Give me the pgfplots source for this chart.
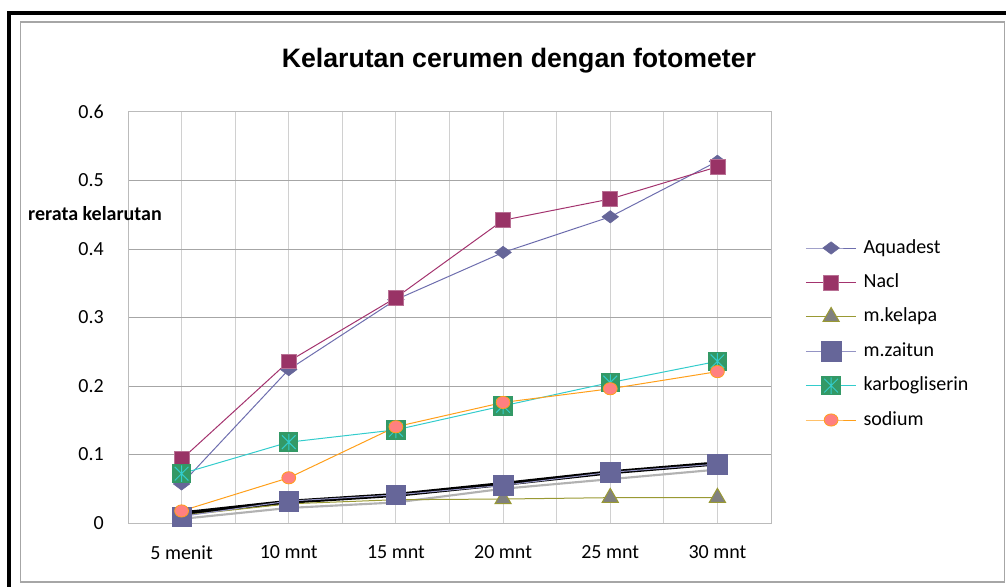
\documentclass[border=0pt]{standalone}
\usepackage{fontspec}
\setmainfont{Carlito}
\newfontfamily\titlefont{Liberation Sans}
\usepackage{pgfplots}
\pgfplotsset{compat=1.18}
\definecolor{aquaL}{HTML}{6E6EAE}
\definecolor{aquaM}{HTML}{666699}
\definecolor{naclL}{HTML}{A3336E}
\definecolor{naclM}{HTML}{993366}
\definecolor{kelL}{HTML}{999933}
\definecolor{kelM}{HTML}{808080}
\definecolor{zaiL}{HTML}{9494C4}
\definecolor{zaiM}{HTML}{666699}
\definecolor{karL}{HTML}{33CCCC}
\definecolor{karM}{HTML}{339966}
\definecolor{sodL}{HTML}{FF9F1A}
\definecolor{sodM}{HTML}{FF8080}
\definecolor{gridlight}{HTML}{D0D0D0}
\definecolor{griddark}{HTML}{A6A6A6}
\pgfdeclareplotmark{karbo}{%
  \pgfpathrectangle{\pgfqpoint{-\pgfplotmarksize}{-\pgfplotmarksize}}{\pgfqpoint{2\pgfplotmarksize}{2\pgfplotmarksize}}%
  \pgfsetfillcolor{karM}\pgfusepath{fill}%
  \pgfsetstrokecolor{karL}\pgfsetlinewidth{0.75pt}%
  \pgfpathmoveto{\pgfqpoint{-0.7\pgfplotmarksize}{-0.7\pgfplotmarksize}}\pgfpathlineto{\pgfqpoint{0.7\pgfplotmarksize}{0.7\pgfplotmarksize}}%
  \pgfpathmoveto{\pgfqpoint{-0.7\pgfplotmarksize}{0.7\pgfplotmarksize}}\pgfpathlineto{\pgfqpoint{0.7\pgfplotmarksize}{-0.7\pgfplotmarksize}}%
  \pgfpathmoveto{\pgfqpoint{0pt}{-0.85\pgfplotmarksize}}\pgfpathlineto{\pgfqpoint{0pt}{0.85\pgfplotmarksize}}%
  \pgfusepath{stroke}%
}
\begin{document}
\begin{tikzpicture}
\useasboundingbox (0,0) rectangle (754.5pt,439.5pt);
\begin{scope}[x=0.75pt,y=0.75pt]
\draw[line width=3pt] (9,-20) -- (9,572.5) -- (1030,572.5);
\draw[color=griddark, line width=1.1pt] (20.5,4) rectangle (1004.5,564);
\end{scope}
\begin{axis}[
  at={(96pt,47.25pt)}, anchor=south west,
  width=482.25pt, height=308.25pt, scale only axis,
  clip=false,
  font=\fontsize{15}{18}\selectfont,
  /pgf/number format/assume math mode=true,
  xmin=-0.5, xmax=5.5, ymin=0, ymax=0.6,
  xtick={0,1,2,3,4,5},
  xticklabels={5 menit,10 mnt,15 mnt,20 mnt,25 mnt,30 mnt},
  minor xtick={-0.5,0.5,1.5,2.5,3.5,4.5,5.5},
  ytick={0,0.1,0.2,0.3,0.4,0.5,0.6},
  yticklabels={0,0.1,0.2,0.3,0.4,0.5,0.6},
  major tick length=0pt, minor tick length=0pt,
  xmajorgrids, xminorgrids, ymajorgrids,
  major grid style={line width=0.75pt, color=gridlight},
  minor grid style={line width=0.75pt, color=gridlight},
  y grid style={color=griddark},
  axis line style={draw=gridlight!90!black, line width=0.75pt},
  yticklabel style={anchor=east, inner sep=0pt, xshift=-18pt},
  xticklabel style={anchor=north, inner sep=0pt, yshift=-17pt},
  title={\titlefont\bfseries Kelarutan cerumen dengan fotometer},
  title style={at={(axis description cs:0.608,1.105)}, anchor=center, font=\fontsize{20}{24}\selectfont},
  ylabel={\bfseries rerata kelarutan},
  ylabel style={rotate=-90, at={(axis description cs:-0.0513,0.754)}, anchor=center},
  legend style={at={(axis description cs:1.0533,0.6975)}, anchor=north west, draw=none, fill=none,
    inner sep=0pt, outer sep=0pt, row sep=8.3pt, font=\fontsize{15}{18}\selectfont,
    nodes={inner sep=2pt, text height=10.5pt, text depth=3pt},
    /tikz/every odd column/.append style={column sep=3pt}},
  legend cell align=left,
  legend image code/.code={\draw[mark repeat=2,mark phase=2,#1] plot coordinates {(0pt,0pt) (19pt,0pt) (38pt,0pt)};},
]
% extra lines (no legend entries)
\addplot[color=black!30, line width=1.6pt, forget plot] coordinates {(0,0.006) (1,0.022) (2,0.030) (3,0.050) (4,0.064) (5,0.078)};
\addplot[color=black, line width=3pt, forget plot] coordinates {(0,0.014) (1,0.031) (2,0.041) (3,0.057) (4,0.074) (5,0.087)};
% series
\addplot[color=aquaL, line width=0.75pt, mark=diamond*, mark size=6.2pt, mark options={rotate=90, fill=aquaM, draw=aquaM, line width=0.4pt}]
  coordinates {(0,0.057) (1,0.224) (2,0.326) (3,0.395) (4,0.447) (5,0.528)};
\addlegendentry{Aquadest}
\addplot[color=naclL, line width=0.75pt, mark=square*, mark size=5.6pt, mark options={fill=naclM, draw=naclM!70!white, line width=0.5pt}]
  coordinates {(0,0.093) (1,0.236) (2,0.329) (3,0.442) (4,0.473) (5,0.520)};
\addlegendentry{Nacl}
\addplot[color=kelL, line width=0.75pt, mark=triangle*, mark size=7pt, mark options={fill=kelM, draw=kelL, line width=0.75pt}]
  coordinates {(0,0.011) (1,0.028) (2,0.034) (3,0.035) (4,0.037) (5,0.037)};
\addlegendentry{m.kelapa}
\addplot[color=zaiL, line width=0.75pt, mark=square*, mark size=7.3pt, mark options={fill=zaiM, draw=zaiM, line width=0.3pt}]
  coordinates {(0,0.0095) (1,0.032) (2,0.041) (3,0.055) (4,0.074) (5,0.086)};
\addlegendentry{m.zaitun}
\addplot[color=karL, line width=0.75pt, mark=karbo, mark size=7.3pt]
  coordinates {(0,0.072) (1,0.118) (2,0.136) (3,0.171) (4,0.205) (5,0.236)};
\addlegendentry{karbogliserin}
\addplot[color=sodL, line width=0.75pt, mark=*, mark size=5.2pt, mark options={yscale=0.88, fill=sodM, draw=sodL, line width=0.6pt}]
  coordinates {(0,0.0176) (1,0.066) (2,0.1405) (3,0.176) (4,0.196) (5,0.221)};
\addlegendentry{sodium}
\end{axis}
\end{tikzpicture}
\end{document}
